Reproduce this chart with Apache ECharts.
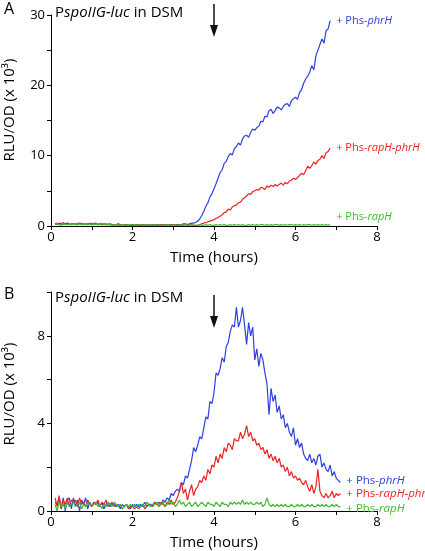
<!DOCTYPE html>
<html>
<head>
<meta charset="utf-8">
<script src="https://cdn.jsdelivr.net/npm/echarts@6/dist/echarts.min.js"></script>
<style>html,body{margin:0;padding:0;background:#fff}#c{width:425px;height:551px}</style>
</head>
<body>
<div id="c"></div>
<script>
const hours = [
0.10,0.15,0.20,0.25,0.30,0.35,0.40,0.45,0.50,0.55,
0.60,0.65,0.70,0.75,0.80,0.85,0.90,0.95,1.00,1.05,
1.10,1.15,1.20,1.25,1.30,1.35,1.40,1.45,1.50,1.55,
1.60,1.65,1.70,1.75,1.80,1.85,1.90,1.95,2.00,2.05,
2.10,2.15,2.20,2.25,2.30,2.35,2.40,2.45,2.50,2.55,
2.60,2.65,2.70,2.75,2.80,2.85,2.90,2.95,3.00,3.05,
3.10,3.15,3.20,3.25,3.30,3.35,3.40,3.45,3.50,3.55,
3.60,3.65,3.70,3.75,3.80,3.85,3.90,3.95,4.00,4.05,
4.10,4.15,4.20,4.25,4.30,4.35,4.40,4.45,4.50,4.55,
4.60,4.65,4.70,4.75,4.80,4.85,4.90,4.95,5.00,5.05,
5.10,5.15,5.20,5.25,5.30,5.35,5.40,5.45,5.50,5.55,
5.60,5.65,5.70,5.75,5.80,5.85,5.90,5.95,6.00,6.05,
6.10,6.15,6.20,6.25,6.30,6.35,6.40,6.45,6.50,6.55,
6.60,6.65,6.70,6.75,6.80,6.85,6.90,6.95,7.00,7.05,
7.10];

// Panel A (RLU/OD x10^3), 0.10 .. 6.85 h
const aPhrH = [
0.3,0.2,0.4,0.3,0.2,0.3,0.4,0.2,0.3,0.3,
0.2,0.3,0.4,0.2,0.3,0.2,0.3,0.3,0.2,0.3,
0.4,0.2,0.3,0.2,0.3,0.2,0.2,0.3,0.2,0.2,
0.2,0.3,0.2,0.2,0.1,0.2,0.2,0.1,0.2,0.2,
0.1,0.2,0.1,0.2,0.2,0.1,0.2,0.1,0.2,0.1,
0.2,0.1,0.2,0.2,0.1,0.2,0.2,0.2,0.1,0.2,
0.2,0.2,0.2,0.3,0.3,0.2,0.3,0.4,0.4,0.5,
0.7,1.0,1.5,2.1,2.8,3.3,4.1,4.6,5.3,6.0,
6.8,7.6,8.0,8.9,9.2,9.9,10.3,10.1,11.0,11.3,
11.8,11.5,12.4,12.8,12.9,12.6,13.3,13.8,13.6,14.0,
14.2,14.9,14.8,15.6,15.5,16.4,16.6,16.0,16.4,16.9,
16.8,16.5,17.0,17.3,17.4,17.0,17.8,18.1,18.3,18.0,
19.0,19.4,20.3,20.9,21.3,21.9,22.8,22.2,24.2,25.0,
25.8,26.6,26.0,27.8,28.0,29.2];
const aRapHPhrH = [
0.3,0.4,0.2,0.3,0.5,0.3,0.4,0.3,0.2,0.3,
0.3,0.2,0.3,0.4,0.2,0.3,0.2,0.3,0.4,0.2,
0.3,0.2,0.3,0.2,0.2,0.3,0.2,0.2,0.1,0.2,
0.2,0.1,0.2,0.2,0.1,0.2,0.1,0.2,0.1,0.1,
0.2,0.1,0.1,0.2,0.1,0.1,0.2,0.1,0.1,0.2,
0.1,0.1,0.2,0.1,0.1,0.2,0.1,0.1,0.2,0.1,
0.1,0.2,0.1,0.1,0.2,0.1,0.1,0.2,0.1,0.1,
0.1,0.2,0.3,0.4,0.5,0.6,0.7,0.8,0.9,1.1,
1.2,1.4,1.6,1.9,2.0,2.4,2.3,2.7,2.9,3.0,
3.3,3.4,3.8,4.0,4.3,4.6,4.5,4.9,5.0,5.2,
5.1,5.5,5.4,5.2,5.7,5.5,5.8,5.6,5.9,5.7,
5.9,6.1,5.8,6.2,6.0,6.4,6.5,6.8,6.6,6.9,
7.2,7.5,7.3,7.9,8.5,8.2,8.6,9.1,8.8,9.3,
9.5,10.0,9.6,10.4,10.6,11.1];
const aRapH = [
0.2,0.3,0.2,0.1,0.3,0.2,0.2,0.3,0.2,0.3,
0.2,0.2,0.3,0.2,0.2,0.3,0.2,0.2,0.3,0.2,
0.3,0.2,0.2,0.4,0.2,0.2,0.3,0.2,0.2,0.1,
0.2,0.2,0.1,0.2,0.2,0.1,0.2,0.2,0.1,0.2,
0.1,0.2,0.2,0.1,0.2,0.1,0.1,0.2,0.1,0.2,
0.1,0.2,0.1,0.1,0.2,0.1,0.2,0.1,0.1,0.2,
0.1,0.1,0.2,0.1,0.2,0.1,0.1,0.2,0.1,0.1,
0.1,0.2,0.1,0.1,0.2,0.1,0.2,0.1,0.1,0.2,
0.1,0.2,0.1,0.2,0.1,0.1,0.2,0.1,0.2,0.1,
0.2,0.1,0.2,0.1,0.1,0.2,0.1,0.2,0.1,0.2,
0.1,0.2,0.2,0.1,0.2,0.1,0.2,0.1,0.2,0.2,
0.1,0.2,0.1,0.2,0.1,0.2,0.2,0.1,0.2,0.1,
0.2,0.1,0.2,0.1,0.2,0.2,0.1,0.2,0.1,0.2,
0.1,0.2,0.1,0.2,0.1,0.2];

// Panel B (RLU/OD x10^3), 0.10 .. 7.10 h
const bPhrH = [
0.4,0.3,0.6,0.1,0.6,0.0,0.5,0.6,0.1,0.6,
0.2,0.5,0.0,0.5,0.3,0.6,0.1,0.4,0.2,0.4,
0.3,0.4,0.2,0.4,0.1,0.3,0.4,0.2,0.3,0.3,
0.2,0.3,0.1,0.3,0.2,0.3,0.2,0.1,0.3,0.2,
0.3,0.2,0.3,0.2,0.4,0.2,0.3,0.3,0.2,0.4,
0.3,0.4,0.3,0.5,0.4,0.6,0.5,0.8,0.7,0.9,
1.0,0.9,1.3,1.2,1.6,1.5,1.9,2.3,2.9,2.7,
3.0,3.4,3.3,3.8,4.3,4.2,5.0,4.9,5.4,6.3,
6.2,6.5,7.0,6.8,7.5,7.7,8.2,8.5,8.4,9.3,
8.4,8.7,9.3,8.5,7.6,8.6,8.0,8.4,6.9,7.4,
6.6,7.2,6.9,6.3,5.8,4.4,5.6,5.0,5.3,4.5,
4.8,4.2,4.4,3.8,4.0,3.6,3.4,3.8,3.0,3.3,
2.9,3.1,2.6,2.4,2.3,2.6,2.2,2.4,2.1,2.5,
2.6,2.0,2.2,1.9,1.8,2.1,1.6,1.8,1.5,1.4,
1.3];
const bRapHPhrH = [
0.6,0.2,0.7,0.1,0.5,0.3,0.6,0.2,0.5,0.4,
0.5,0.2,0.6,0.3,0.4,0.2,0.5,0.3,0.2,0.4,
0.3,0.5,0.2,0.4,0.3,0.5,0.2,0.3,0.4,0.2,
0.3,0.2,0.3,0.1,0.2,0.3,0.1,0.2,0.2,0.1,
0.2,0.1,0.2,0.3,0.1,0.2,0.3,0.2,0.3,0.4,
0.3,0.2,0.4,0.3,0.2,0.4,0.3,0.5,0.3,0.4,
0.6,0.9,1.3,0.8,1.0,0.5,0.9,1.2,0.7,1.0,
1.1,1.4,1.3,1.6,1.4,1.9,1.7,2.1,2.0,2.5,
2.2,2.6,2.4,2.9,2.7,3.1,3.0,2.8,3.3,3.2,
3.2,3.6,3.3,3.5,3.9,3.4,3.6,3.2,3.3,3.0,
3.1,2.8,2.9,2.6,2.8,2.4,2.6,2.3,2.5,2.2,
2.4,2.0,2.1,1.8,2.0,1.6,1.8,1.5,1.6,1.4,
1.5,1.3,1.2,1.4,1.1,0.9,1.2,0.8,1.1,1.9,
0.9,0.7,0.6,0.8,0.6,0.7,0.9,0.6,0.8,0.7,
0.8];
const bRapH = [
0.3,0.0,0.4,0.2,0.3,0.1,0.4,0.2,0.3,0.4,
0.2,0.3,0.4,0.1,0.3,0.2,0.4,0.3,0.2,0.3,
0.4,0.2,0.3,0.1,0.3,0.2,0.4,0.3,0.2,0.4,
0.3,0.2,0.3,0.1,0.2,0.3,0.2,0.3,0.2,0.3,
0.2,0.3,0.2,0.3,0.2,0.4,0.3,0.2,0.3,0.3,
0.4,0.2,0.3,0.4,0.2,0.3,0.5,0.3,0.4,0.2,
0.3,0.5,0.3,0.4,0.2,0.3,0.4,0.2,0.3,0.4,
0.2,0.3,0.4,0.3,0.2,0.4,0.3,0.3,0.2,0.4,
0.3,0.2,0.4,0.3,0.3,0.2,0.4,0.3,0.4,0.3,
0.4,0.3,0.5,0.3,0.4,0.3,0.4,0.3,0.3,0.4,
0.3,0.4,0.2,0.3,0.6,0.3,0.2,0.3,0.2,0.3,
0.2,0.3,0.2,0.3,0.2,0.2,0.3,0.2,0.2,0.3,
0.2,0.3,0.2,0.2,0.3,0.2,0.3,0.2,0.2,0.3,
0.2,0.3,0.2,0.3,0.2,0.2,0.3,0.2,0.3,0.2,
0.2];

const xTickLabels = ['0','2','4','6','8'];
const yTickLabelsA = ['0','10','20','30'];
const yTickLabelsB = ['0','4','8'];
const seriesLabels = [['+ Phs-', 'phrH'], ['+ Phs-', 'rapH-phrH'], ['+ Phs-', 'rapH']];
const arrowHour = 4;

const FONT = '"Open Sans", "DejaVu Sans", sans-serif';
const BLUE = '#2f40e0', RED = '#ee2222', GREEN = '#3cbb2a';

function pairs(vals) { return vals.map((v, i) => [hours[i], v]); }

function xAxis(gi) {
  return {
    type: 'value', gridIndex: gi, min: 0, max: 8, interval: 1,
    axisLine: { lineStyle: { color: '#000', width: 1 } },
    axisTick: { length: 4, lineStyle: { color: '#000' } },
    splitLine: { show: false },
    axisLabel: { color: '#000', fontFamily: FONT, fontSize: 13, margin: 5,
      formatter: v => xTickLabels.includes(String(v)) ? String(v) : '' },
    name: 'Time (hours)', nameLocation: 'middle', nameGap: 24,
    nameTextStyle: { color: '#000', fontFamily: FONT, fontSize: 15 }
  };
}
function yAxis(gi, max, interval, labels) {
  return {
    type: 'value', gridIndex: gi, min: 0, max: max, interval: interval,
    axisLine: { show: true, lineStyle: { color: '#000', width: 1 } },
    axisTick: { show: true, length: 4, lineStyle: { color: '#000' } },
    splitLine: { show: false },
    axisLabel: { color: '#000', fontFamily: FONT, fontSize: 13, margin: 6,
      formatter: v => labels.includes(String(v)) ? String(v) : '' }
  };
}
function line(gi, vals, color, lbl, offset, fs) {
  return {
    type: 'line', xAxisIndex: gi, yAxisIndex: gi, data: pairs(vals),
    showSymbol: false, symbol: 'none', animation: false,
    lineStyle: { color: color, width: 1.2 }, itemStyle: { color: color },
    endLabel: {
      show: true, distance: 6, offset: offset || [0, 0],
      formatter: '{n|' + lbl[0] + '}{i|' + lbl[1] + '}',
      rich: {
        n: { color: color, fontFamily: FONT, fontSize: fs || 11 },
        i: { color: color, fontFamily: FONT, fontSize: fs || 11, fontStyle: 'italic' }
      }
    }
  };
}

const chart = echarts.init(document.getElementById('c'), null, { renderer: 'canvas' });
chart.setOption({
  animation: false,
  backgroundColor: '#fff',
  grid: [
    { left: 51, top: 15, width: 326, height: 211 },
    { left: 51, top: 292, width: 326, height: 219 }
  ],
  xAxis: [xAxis(0), xAxis(1)],
  yAxis: [yAxis(0, 30, 5, yTickLabelsA), yAxis(1, 10, 2, yTickLabelsB)],
  series: [
    line(0, aPhrH, BLUE, seriesLabels[0]),
    line(0, aRapHPhrH, RED, seriesLabels[1]),
    line(0, aRapH, GREEN, seriesLabels[2], [0, -8]),
    line(1, bPhrH, BLUE, seriesLabels[0], [0, -2], 11.5),
    line(1, bRapHPhrH, RED, seriesLabels[1], [0, 0], 11.5),
    line(1, bRapH, GREEN, seriesLabels[2], [0, 2], 11.5)
  ]
});

function titleText(x, y) {
  return { type: 'text', left: x, top: y, style: {
    text: '{n|P}{i|spoIIG-luc}{n| in DSM}',
    rich: {
      n: { fontFamily: FONT, fontSize: 15, fill: '#000' },
      i: { fontFamily: FONT, fontSize: 15, fontStyle: 'italic', fill: '#000' }
    }
  } };
}
function yName(cx, cy) {
  return { type: 'text', x: cx, y: cy, rotation: Math.PI / 2, style: {
    text: 'RLU/OD (x 10³)', fontFamily: FONT, fontSize: 15, fill: '#000',
    align: 'center', verticalAlign: 'middle'
  } };
}
function arrow(gi, yTop, yBot) {
  const px = chart.convertToPixel({ gridIndex: gi }, [arrowHour, 0])[0];
  return [
    { type: 'line', shape: { x1: px, y1: yTop, x2: px, y2: yBot - 10 }, style: { stroke: '#111', lineWidth: 1.5 } },
    { type: 'polygon', shape: { points: [[px - 4, yBot - 12], [px + 4, yBot - 12], [px, yBot]] }, style: { fill: '#111' } }
  ];
}
chart.setOption({
  graphic: [
    { type: 'text', left: 4, top: 1, style: { text: 'A', fontFamily: FONT, fontSize: 16, fill: '#000' } },
    { type: 'text', left: 4, top: 286, style: { text: 'B', fontFamily: FONT, fontSize: 16, fill: '#000' } },
    titleText(55, 5),
    titleText(55, 290),
    yName(10, 110),
    yName(10, 394)
  ].concat(arrow(0, 4, 37), arrow(1, 295, 328))
});
</script>
</body>
</html>
